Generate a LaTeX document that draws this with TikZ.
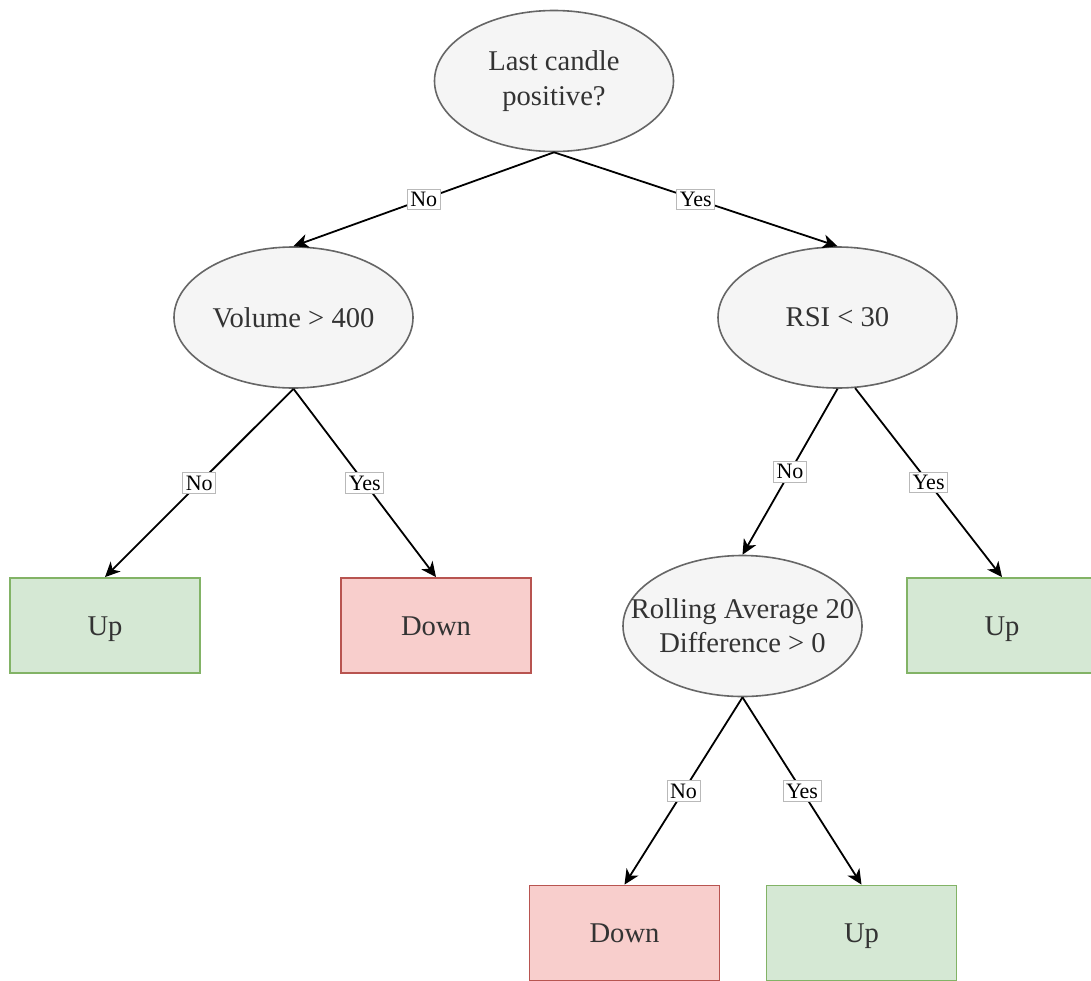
\documentclass[tikz,border=0pt]{standalone}
\usepackage{fontspec}
\setmainfont{Liberation Serif}
\usetikzlibrary{arrows.meta,shapes.geometric}
\definecolor{CondFill}{HTML}{F5F5F5}
\definecolor{CondLine}{HTML}{666666}
\definecolor{TextGray}{HTML}{333333}
\definecolor{UpFill}{HTML}{D5E8D4}
\definecolor{UpLine}{HTML}{82B366}
\definecolor{DownFill}{HTML}{F8CECC}
\definecolor{DownLine}{HTML}{B85450}
\tikzset{
  condnode/.style={draw=CondLine,ellipse,fill=CondFill,line width=0.8pt,
    inner sep=0pt,minimum width=119.5pt,minimum height=70.5pt},
  condtext/.style={align=center,text=TextGray,inner sep=0pt,
    font=\fontsize{14.3}{17.2}\selectfont},
  leafup/.style={draw=UpLine,fill=UpFill,line width=0.9pt,
    minimum width=95pt,minimum height=47.5pt,text=TextGray,
    text height=11pt,text depth=1.5pt,
    font=\fontsize{14.3}{17.2}\selectfont},
  leafdown/.style={leafup,draw=DownLine,fill=DownFill},
  edgearrow/.style={-{Stealth[length=7.5pt,width=7pt,inset=2.2pt]},
    line width=0.9pt,draw=black},
  edgelabel/.style={draw=gray!55,line width=0.4pt,fill=white,text=black,
    inner sep=1.5pt,font=\fontsize{11}{13}\selectfont},
}
\begin{document}
\begin{tikzpicture}[x=0.5pt,y=-0.5pt]
    \useasboundingbox (0,0) rectangle (1091,980);
    % decisions
    \node[condnode] (root) at (554,81) {};
    \node[condtext] (roottxt) at (root) {Last candle\\positive?};
    \node[condnode] (vol) at (293.5,317.5) {};
    \node[condtext] (voltxt) at (vol) {Volume > 400};
    \node[condnode] (rsi) at (837.5,317.5) {};
    \node[condtext] (rsitxt) at (rsi) {RSI < 30};
    \node[condnode] (roll) at (742.5,626) {};
    \node[condtext] (rolltxt) at (roll) {Rolling Average 20\\Difference > 0};
    % outcomes
    \node[leafup]   (upA)   at (105,625.5)  {Up};
    \node[leafdown] (downA) at (436,625.5)  {Down};
    \node[leafup]   (upB)   at (1002,625.5) {Up};
    \node[leafdown] (downB) at (624.5,933)  {Down};
    \node[leafup]   (upC)   at (861.5,933)  {Up};
    % branches
    \draw[edgearrow] (root.south) -- node[edgelabel] {No} (vol.north);
    \draw[edgearrow] (root.south) -- node[edgelabel] {Yes} (rsi.north);
    \draw[edgearrow] (vol.south) -- node[edgelabel] {No} (upA.north);
    \draw[edgearrow] (vol.south) -- node[edgelabel] {Yes} (downA.north);
    \draw[edgearrow] (rsi.south) -- node[edgelabel] {No} (roll.north);
    \draw[edgearrow] (rsi.-76) -- node[edgelabel] {Yes} (upB.north);
    \draw[edgearrow] (roll.south) -- node[edgelabel] {No} (downB.north);
    \draw[edgearrow] (roll.south) -- node[edgelabel] {Yes} (upC.north);
\end{tikzpicture}
\end{document}
